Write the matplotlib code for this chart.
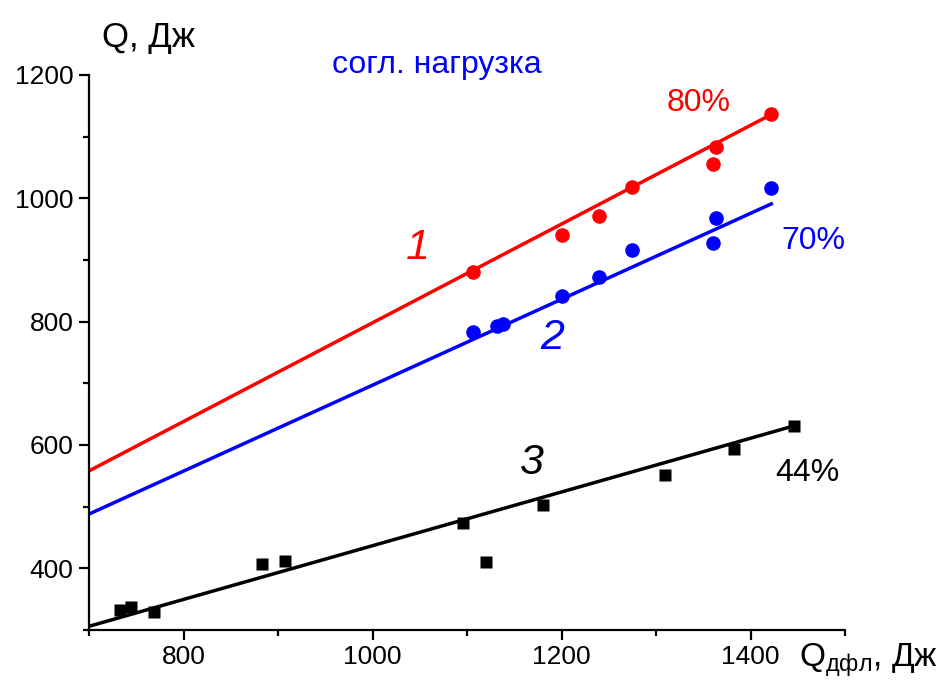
import matplotlib
matplotlib.use("Agg")
import matplotlib.pyplot as plt
from matplotlib.ticker import MultipleLocator

plt.rcParams['font.family'] = ['Liberation Sans', 'DejaVu Sans']

# Data
red_x = [1106, 1200, 1240, 1275, 1360, 1364, 1422]
red_y = [880, 941, 971, 1019, 1055, 1083, 1136]
blue_x = [1106, 1132, 1138, 1200, 1240, 1275, 1360, 1364, 1422]
blue_y = [783, 793, 797, 841, 872, 916, 927, 968, 1017]
black_x = [733, 744, 769, 883, 907, 1096, 1120, 1180, 1310, 1383, 1446]
black_y = [332, 337, 330, 407, 412, 474, 411, 502, 551, 593, 631]

red_fit_x = [700, 1422]
red_fit_y = [558, 1136]
blue_fit_x = [700, 1422]
blue_fit_y = [488, 991]
black_fit_x = [700, 1446]
black_fit_y = [306, 631]

W, H = 938, 687
fig = plt.figure(figsize=(W / 100, H / 100), dpi=100)
ax = fig.add_axes([89 / W, 1 - 630 / H, (845 - 89) / W, (630 - 75) / H])

ax.plot(red_fit_x, red_fit_y, color='#ff0000', lw=2.5, zorder=2)
ax.plot(blue_fit_x, blue_fit_y, color='#0000ff', lw=2.5, zorder=2)
ax.plot(black_fit_x, black_fit_y, color='black', lw=2.5, zorder=2)
ax.plot(red_x, red_y, 'o', color='#ff0000', ms=10.5, mec='none', zorder=3)
ax.plot(blue_x, blue_y, 'o', color='#0000ff', ms=10.5, mec='none', zorder=3)
ax.plot(black_x, black_y, 's', color='black', ms=9, mec='none', zorder=3)

ax.set_xlim(700, 1500)
ax.set_ylim(300, 1200)
ax.xaxis.set_minor_locator(MultipleLocator(100))
ax.yaxis.set_minor_locator(MultipleLocator(100))
ax.set_xticks([800, 1000, 1200, 1400])
ax.set_yticks([400, 600, 800, 1000, 1200])

for s in ['top', 'right']:
    ax.spines[s].set_visible(False)
for s in ['left', 'bottom']:
    ax.spines[s].set_linewidth(1.6)
ax.tick_params(which='major', direction='out', length=7, width=1.6, labelsize=19, pad=4)
ax.tick_params(which='minor', direction='out', length=4, width=1.6)


def ftext(px, py, s, **kw):
    fig.text(px / W, 1 - py / H, s, ha='center', va='center', **kw)


ftext(148, 37, 'Q, Дж', fontsize=25)
ftext(869, 660, r'Q$_{\mathregular{дфл}}$, Дж', fontsize=24)
ftext(437, 65, 'согл. нагрузка', fontsize=23, color='#0000ff')
ftext(418, 248, '1', fontsize=31, color='#ff0000', style='italic')
ftext(552, 338, '2', fontsize=31, color='#0000ff', style='italic')
ftext(532, 463, '3', fontsize=31, color='black', style='italic')
ftext(699, 103, '80%', fontsize=23, color='#ff0000')
ftext(813, 241, '70%', fontsize=23, color='#0000ff')
ftext(807, 473, '44%', fontsize=23, color='black')

fig.savefig('out.png', dpi=100)
